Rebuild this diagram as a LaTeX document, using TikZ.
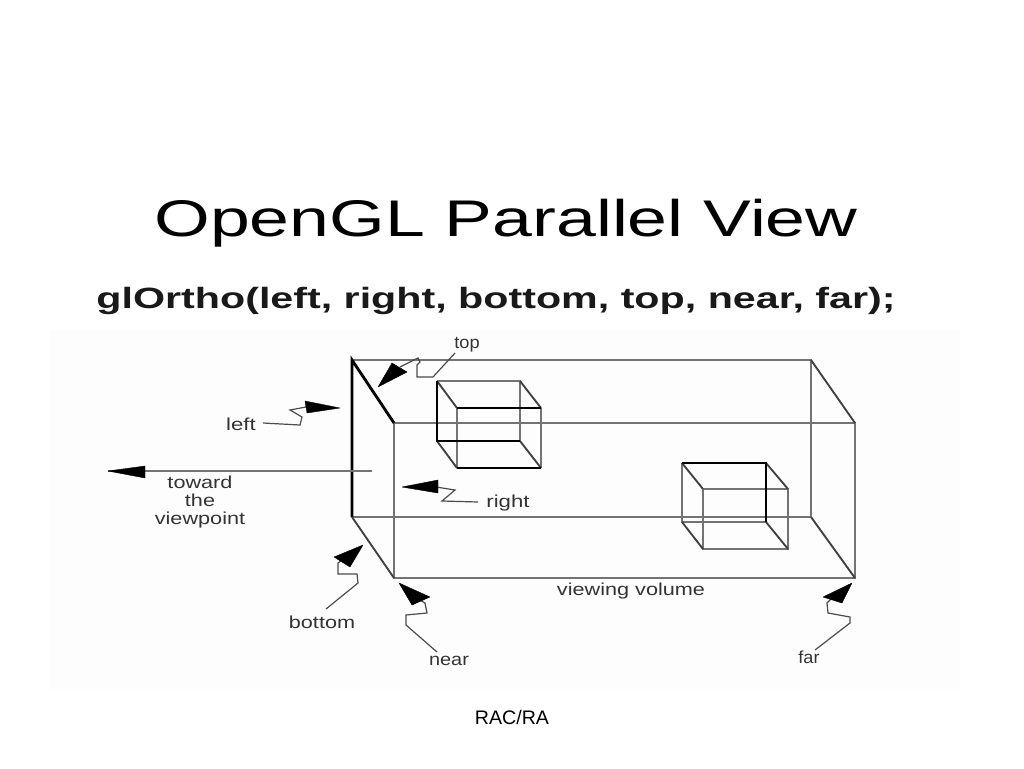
\documentclass[tikz,border=0pt]{standalone}
\usepackage{fontspec}
\setmainfont{Liberation Sans}
\definecolor{edgegray}{gray}{0.45}
\definecolor{labelgray}{gray}{0.2}
\definecolor{panel}{gray}{0.993}
\tikzset{
  x=0.75pt,y=-0.75pt,
  thinedge/.style={draw=edgegray,line width=1.4pt},
  darkedge/.style={draw=black!75,line width=1.4pt},
  heavyedge/.style={draw=black,line width=2.1pt},
  wiggle/.style={draw=black!70,line width=0.9pt},
  head/.style={fill=black,draw=black,line width=0.3pt,line join=round},
  lab/.style={font=\fontsize{13}{12.75}\selectfont,text=labelgray,inner sep=0pt,align=center},
}
\newcommand{\wide}[2]{\scalebox{#1}[1]{#2}}
\begin{document}
\begin{tikzpicture}
\useasboundingbox (0,0) rectangle (1024,768);
\fill[white] (0,0) rectangle (1024,768);
\fill[panel] (50,330) rectangle (960,690);
% title
\node[inner sep=0pt] (title) at (506,223) {\scalebox{1}[0.72]{\fontsize{53.7}{60}\selectfont\color{black}OpenGL Parallel View}};
\node[inner sep=0pt] (sub) at (496,301) {\scalebox{1.405}[1]{\fontsize{22}{25}\selectfont\bfseries\color{black!90}glOrtho(left, right, bottom, top, near, far);}};
\node[inner sep=0pt] (rac) at (512,717) {\fontsize{14.7}{17}\selectfont RAC/RA};
% big box corners
\coordinate (rtl) at (352,360); \coordinate (rtr) at (811,360);
\coordinate (rbl) at (352,517); \coordinate (rbr) at (811,517);
\coordinate (ftl) at (394,423); \coordinate (ftr) at (855,423);
\coordinate (fbl) at (394,578); \coordinate (fbr) at (855,578);
\draw[thinedge] (rtl) -- (rtr) -- (rbr) -- (rbl);
\draw[thinedge] (ftl) -- (ftr) -- (fbr) -- (fbl) -- cycle;
\draw[heavyedge] (rbl) -- (rtl) -- (ftl);
\draw[darkedge] (rbl) -- (fbl);
\draw[darkedge] (rtr) -- (ftr);
\draw[darkedge] (rbr) -- (fbr);
% cube 1
\coordinate (arl) at (437,381); \coordinate (arr) at (520,381);
\coordinate (abl) at (437,441); \coordinate (abr) at (520,441);
\coordinate (afl) at (457,408); \coordinate (afr) at (541,408);
\coordinate (agl) at (457,468); \coordinate (agr) at (541,468);
\draw[thinedge] (arl) -- (arr) -- (abr);
\draw[thinedge] (afl) -- (agl);
\draw[thinedge] (afr) -- (agr);
\draw[darkedge] (arr) -- (afr) (abr) -- (agr) (arl) -- (afl) (abl) -- (agl);
\draw[heavyedge,line width=1.7pt] (abr) -- (abl) -- (arl);
\draw[heavyedge,line width=1.5pt] (afl) -- (afr) (agl) -- (agr);
% cube 2
\coordinate (brl) at (682,463); \coordinate (brr) at (766,463);
\coordinate (bbl) at (682,522); \coordinate (bbr) at (766,522);
\coordinate (bfl) at (703,489); \coordinate (bfr) at (788,489);
\coordinate (bgl) at (703,549); \coordinate (bgr) at (788,549);
\draw[thinedge] (brl) -- (bbl) -- (bbr);
\draw[thinedge] (bfl) -- (bfr) -- (bgr) -- (bgl) -- cycle;
\draw[darkedge] (brl) -- (bfl) (brr) -- (bfr) (bbl) -- (bgl) (bbr) -- (bgr);
\draw[heavyedge] (bbr) -- (brr) -- (brl);
% labels
\node[lab] (ltop) at (467,345) {\wide{1.05}{top}};
\node[lab] (lleft) at (241,424) {\wide{1.28}{left}};
\node[lab] (lright) at (508,503) {\wide{1.28}{right}};
\node[lab] (lbottom) at (322,622) {\wide{1.25}{bottom}};
\node[lab] (lnear) at (449,661) {\wide{1.15}{near}};
\node[lab] (lfar) at (809,657) {\wide{1.05}{far}};
\node[lab] (lvol) at (631,591) {\wide{1.25}{viewing volume}};
\node[lab] (ltow) at (200,502) {\wide{1.25}{toward}\\[1pt]\wide{1.25}{the}\\[1pt]\wide{1.25}{viewpoint}};
% tips
\coordinate (ttop) at (378,387); \coordinate (tleft) at (340,408);
\coordinate (tright) at (402,487); \coordinate (tbottom) at (363,545);
\coordinate (tnear) at (399,583); \coordinate (tfar) at (852,583);
\coordinate (ttow) at (108,471); \coordinate (stow) at (372,471);
% toward line
\draw[thinedge,line width=1pt] (stow) -- (ttow);
\fill[head] (ttow) -- (145,466) -- (145,478) -- cycle;
% wiggles
\draw[wiggle] (455,353) -- (433,377) -- (417,377) -- (417,365) -- (420,362) -- (418,358) -- (400,367);
\fill[head] (ttop) -- (392,363) -- (407,372) -- cycle;
\draw[wiggle] (263,423) -- (300,425) -- (302,417) -- (290,410) -- (306,407);
\fill[head] (tleft) -- (305,401) -- (307,413) -- cycle;
\draw[wiggle] (478,502) -- (442,501) -- (455,490) -- (436,487);
\fill[head] (tright) -- (438,480) -- (438,493) -- cycle;
\draw[wiggle] (326,609) -- (358,583) -- (357,574) -- (338,574) -- (338,563) -- (342,560);
\fill[head] (tbottom) -- (334,557) -- (350,567) -- cycle;
\draw[wiggle] (437,652) -- (406,625) -- (406,615) -- (427,613) -- (425,603) -- (420,600);
\fill[head] (tnear) -- (430,597) -- (412,605) -- cycle;
\draw[wiggle] (815,650) -- (850,623) -- (850,617) -- (828,613) -- (827,603) -- (832,598);
\fill[head] (tfar) -- (823,597) -- (842,603) -- cycle;
\end{tikzpicture}
\end{document}
